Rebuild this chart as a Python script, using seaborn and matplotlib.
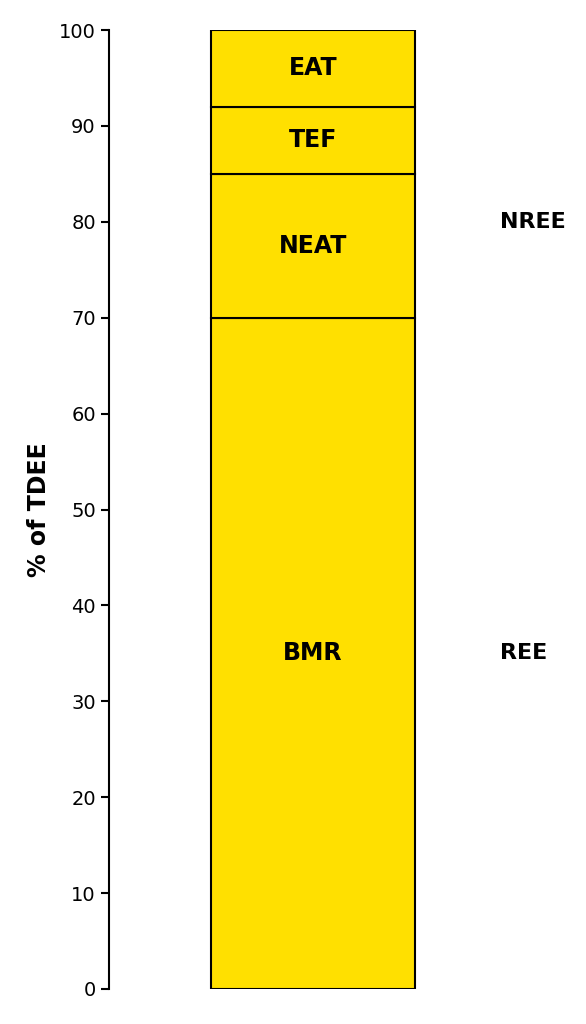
import matplotlib
matplotlib.use("Agg")
import matplotlib.pyplot as plt
import seaborn as sns
import pandas as pd

sns.set_theme(style="white")
plt.rcParams['font.family'] = ['DejaVu Sans']
plt.rcParams['text.color'] = 'black'
plt.rcParams['axes.labelcolor'] = 'black'
plt.rcParams['ytick.color'] = 'black'

components = ["BMR", "NEAT", "TEF", "EAT"]
values = [70, 15, 7, 8]
group_labels = ["REE", "NREE"]
group_positions = [35, 80]
yticks = [0, 10, 20, 30, 40, 50, 60, 70, 80, 90, 100]

fig = plt.figure(figsize=(5.86, 10.24), dpi=100)
ax = fig.add_axes([109/586, 35/1024, 459/586, 959/1024])

bottom = 0
for name, val in zip(components, values):
    df = pd.DataFrame({"cat": ["TDEE"], "val": [val]})
    sns.barplot(data=df, x="cat", y="val", ax=ax, color="#FFE000", saturation=1,
                width=0.8, bottom=bottom, edgecolor="black", linewidth=1.5, zorder=2)
    ax.text(0, bottom + val / 2, name, ha="center", va="center",
            fontsize=17, fontweight="bold", color="black", zorder=3)
    bottom += val

for lab, pos in zip(group_labels, group_positions):
    ax.text(0.733, pos, lab, ha="left", va="center", fontsize=16,
            fontweight="bold", color="black")

ax.set_xlim(-0.8, 1.0)
ax.set_ylim(0, 100)
ax.set_yticks(yticks)
ax.tick_params(axis="y", labelsize=14, length=6, width=1.5, left=True,
               color="black", labelcolor="black")
ax.set_xticks([])
ax.set_xlabel("")
ax.set_ylabel("% of TDEE", fontsize=17, fontweight="bold", labelpad=6, color="black")
for s in ["top", "right", "bottom"]:
    ax.spines[s].set_visible(False)
ax.spines["left"].set_color("black")
ax.spines["left"].set_linewidth(1.5)

fig.savefig("out.png", dpi=100)
